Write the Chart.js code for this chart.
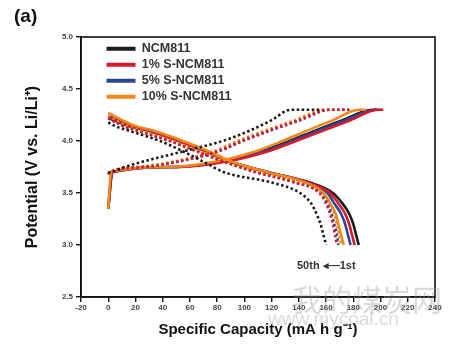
<!DOCTYPE html>
<html>
<head>
<meta charset="utf-8">
<script src="https://cdn.jsdelivr.net/npm/chart.js@4.4.0/dist/chart.umd.min.js"></script>
<style>
  body { margin: 0; background: #fff; }
  #wrap { position: relative; width: 465px; height: 351px; }
  #panel { position: absolute; left: 14px; top: 5px; font: bold 19px "Liberation Sans", Arial, sans-serif; color: #111; }
  #cycles { position: absolute; left: 297px; top: 259px; font: bold 11px "Liberation Sans", Arial, sans-serif; color: #333; white-space: nowrap; }
  .wm { position: absolute; color: rgba(150,150,150,0.35); font-family: "Noto Sans CJK SC", sans-serif; pointer-events: none; }
</style>
</head>
<body>
<div id="wrap">
  <canvas id="chart"></canvas>
  <div id="panel">(a)</div>
  <div id="cycles">50th &#x25C2;&#x2014;1st</div>
  <div class="wm" style="left:292px; top:276px; font-size:30px;">我的煤炭网</div>
  <div class="wm" style="left:268px; top:308px; font-size:19px; font-family:'Liberation Sans', Arial, sans-serif;">www.mycoal.cn</div>
</div>
<script>
const samples = ['NCM811', '1% S-NCM811', '5% S-NCM811', '10% S-NCM811'];
const colors = ['#1b1b1b', '#d7192e', '#2e4597', '#f0891c'];

// voltage levels the capacities below are read at
const chargeV = [3.7, 3.75, 3.8, 3.9, 4.0, 4.1, 4.2, 4.3];
const dischargeV = [4.15, 4.1, 4.0, 3.9, 3.8, 3.7, 3.6, 3.5, 3.4, 3.3, 3.2, 3.1, 3.0];
const cutoffV = 4.3;

// 1st cycle (solid)
const chargeStart1st = [3.35, 3.35, 3.35, 3.35];
const chargeCap1st = [
  [3, 50, 82, 112, 133, 152, 172, 194],
  [3, 53, 86, 117, 138, 158, 178, 198],
  [3, 51, 83, 114, 135, 154, 174, 196],
  [2, 45, 78, 108, 128, 146, 165, 184]
];
const chargeEnd1st = [197, 202, 199, 189];
const dischargeStart1st = [4.22, 4.23, 4.24, 4.27];
const dischargeCap1st = [
  [14, 29, 52, 72, 90, 118, 148, 165, 172, 177, 180, 182, 184],
  [15, 30, 52, 72, 90, 117, 147, 163, 169, 174, 177, 179, 181],
  [16, 31, 53, 73, 90, 117, 146, 161, 166, 171, 174, 176, 178],
  [19, 33, 55, 74, 91, 117, 145, 158, 163, 167, 169, 171, 173]
];

// 50th cycle (dotted)
const chargeStart50th = [3.7, 3.68, 3.68, 3.68];
const chargeCap50th = [
  [1, 12, 25, 55, 84, 104, 120, 134],
  [1, 25, 50, 80, 98, 118, 140, 162],
  [1, 26, 51, 81, 99, 119, 141, 163],
  [1, 22, 47, 77, 95, 115, 137, 158]
];
const chargeEnd50th = [157, 178, 176, 174];
const dischargeStart50th = [4.18, 4.22, 4.22, 4.24];
const dischargeCap50th = [
  [4, 15, 38, 55, 70, 85, 120, 141, 149, 153, 156, 158, 160],
  [10, 21, 45, 65, 85, 108, 137, 155, 160, 163, 165, 166.5, 168],
  [10, 22, 46, 66, 86, 110, 138, 156, 161, 164, 166, 168, 169],
  [13, 24, 47, 67, 87, 111, 139, 157, 163, 166, 168, 169.5, 171]
];

const xTicks = { min: -20, max: 240, step: 20 };
const yTicks = { min: 2.5, max: 5.0, step: 0.5 };

function chargePoints(start, caps, end) {
  const pts = [{ x: 0, y: start }];
  chargeV.forEach((v, k) => pts.push({ x: caps[k], y: v }));
  pts.push({ x: end, y: cutoffV });
  return pts;
}

function dischargePoints(start, caps) {
  const pts = [{ x: 0, y: start }];
  dischargeV.forEach((v, k) => pts.push({ x: caps[k], y: v }));
  return pts;
}

const solidOrder = [7, 5, 6, 4];
const datasets = [];
samples.forEach((name, i) => {
  datasets.push({ label: name, data: chargePoints(chargeStart1st[i], chargeCap1st[i], chargeEnd1st[i]),
    borderColor: colors[i], backgroundColor: colors[i], borderWidth: 2.6, order: solidOrder[i] });
});
samples.forEach((name, i) => {
  datasets.push({ label: name + ' discharge', data: dischargePoints(dischargeStart1st[i], dischargeCap1st[i]),
    borderColor: colors[i], backgroundColor: colors[i], borderWidth: 2.6, order: solidOrder[i] });
});
samples.forEach((name, i) => {
  const ord = [0, 1, 3, 2][i];
  datasets.push({ label: name + ' 50th', data: chargePoints(chargeStart50th[i], chargeCap50th[i], chargeEnd50th[i]),
    borderColor: colors[i], backgroundColor: colors[i], borderWidth: 2.6, borderDash: [2.5, 2.5], order: ord });
  datasets.push({ label: name + ' 50th discharge', data: dischargePoints(dischargeStart50th[i], dischargeCap50th[i]),
    borderColor: colors[i], backgroundColor: colors[i], borderWidth: 2.6, borderDash: [2.5, 2.5], order: ord });
});

const frame = {
  id: 'frame',
  afterLayout(chart) {
    const a = chart.chartArea;
    chart.legend.left = a.left + 22;
    chart.legend.top = a.top + 2;
  },
  afterDatasetsDraw(chart) {
    const { ctx, chartArea: a } = chart;
    ctx.save();
    ctx.strokeStyle = '#111';
    ctx.lineWidth = 1.6;
    ctx.strokeRect(a.left, a.top, a.right - a.left, a.bottom - a.top);
    ctx.restore();
  }
};

const tickFont = { family: '"Liberation Sans", Arial, sans-serif', size: 8, weight: 'bold' };
const titleFont = { family: '"Liberation Sans", Arial, sans-serif', size: 15, weight: 'bold' };

new Chart(document.getElementById('chart'), {
  type: 'line',
  data: { datasets },
  options: {
    responsive: true,
    maintainAspectRatio: false,
    animation: false,
    layout: { padding: { top: 37, right: 30, left: 0, bottom: 0 } },
    elements: { point: { radius: 0 }, line: { cubicInterpolationMode: 'monotone' } },
    plugins: {
      tooltip: { enabled: false },
      legend: {
        position: 'chartArea',
        align: 'start',
        labels: {
          boxWidth: 29,
          boxHeight: 4,
          padding: 3.5,
          color: '#333',
          font: { family: '"Liberation Sans", Arial, sans-serif', size: 12.5, weight: 'bold' },
          filter: item => item.datasetIndex < 4,
          sort: (a, b) => a.datasetIndex - b.datasetIndex,
          generateLabels(chart) {
            return Chart.defaults.plugins.legend.labels.generateLabels(chart).map(l => {
              l.lineWidth = 0;
              l.lineDash = [];
              return l;
            });
          }
        }
      }
    },
    scales: {
      x: {
        type: 'linear',
        min: xTicks.min, max: xTicks.max,
        afterFit(s) { s.height = 54; },
        border: { color: '#111', width: 1.6 },
        grid: { drawOnChartArea: false, tickLength: 5, color: '#111', lineWidth: 1.4 },
        ticks: { stepSize: xTicks.step, padding: 1, color: '#444', font: tickFont, maxRotation: 0 },
        title: { display: true, text: 'Specific Capacity (mA h g\u207B\u00B9)', color: '#111', font: titleFont, padding: { top: 0, bottom: 12 } }
      },
      y: {
        min: yTicks.min, max: yTicks.max,
        afterFit(s) { s.width = 81; },
        border: { color: '#111', width: 1.6 },
        grid: { drawOnChartArea: false, tickLength: 5, color: '#111', lineWidth: 1.4 },
        ticks: { stepSize: yTicks.step, padding: 3, color: '#444', font: tickFont, callback: v => v.toFixed(1) },
        title: { display: true, text: 'Potential (V vs. Li/Li\u207A)', color: '#111', font: { ...titleFont, size: 16 }, padding: { top: 23, bottom: 0 } }
      }
    }
  },
  plugins: [frame]
});
</script>
</body>
</html>
